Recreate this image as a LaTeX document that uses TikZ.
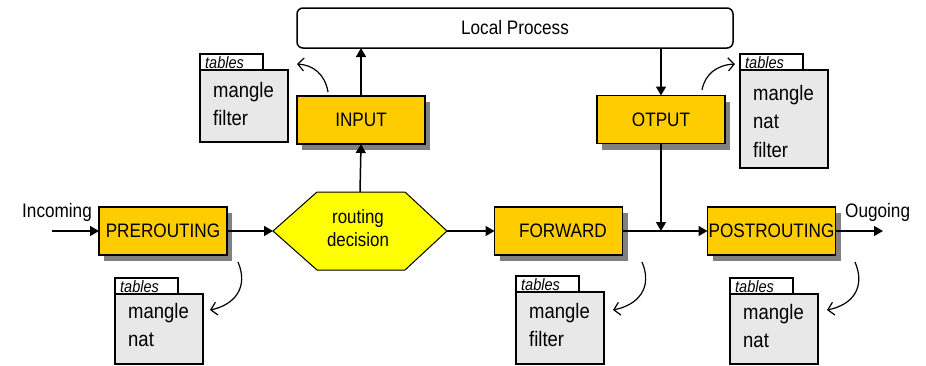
\documentclass[tikz,border=0pt]{standalone}
\usepackage{fontspec}
\setmainfont[FakeStretch=0.88]{Liberation Sans}
\usetikzlibrary{arrows.meta,shadows,calc}

\definecolor{chainfill}{HTML}{FFCC00}
\definecolor{hexfill}{HTML}{FFFF00}
\definecolor{tblfill}{HTML}{E8E8E8}
\definecolor{shadowgrey}{HTML}{808080}

\tikzset{
  chainbox/.style={draw=black, line width=1.8pt, fill=chainfill,
    minimum width=128pt, minimum height=48pt, inner sep=0pt, outer sep=0pt,
    font=\fontsize{19.5}{23}\selectfont,
    drop shadow={shadow xshift=5pt, shadow yshift=-6pt, fill=shadowgrey, opacity=1}},
  procbox/.style={draw=black, line width=1.5pt, rounded corners=6pt, fill=white,
    minimum width=436pt, minimum height=40pt, inner sep=0pt, outer sep=0pt,
    font=\fontsize{19.5}{23}\selectfont},
  tabbox/.style={draw=black, line width=1.3pt, fill=white,
    minimum width=63pt, minimum height=16pt, inner sep=0pt, outer sep=0pt},
  tabtext/.style={inner sep=0pt, font=\fontsize{16.5}{16.5}\selectfont\itshape},
  tblbox/.style={draw=black, line width=1.5pt, fill=tblfill,
    minimum width=88pt, inner sep=0pt, outer sep=0pt},
  tbltext/.style={inner sep=0pt, align=left, font=\fontsize{21}{28.5}\selectfont},
  plain/.style={inner sep=0pt, font=\fontsize{19.5}{23}\selectfont},
  flow/.style={line width=1.5pt, -{Triangle[length=9pt,width=10pt]}},
  joinline/.style={line width=1.5pt},
  lookup/.style={line width=1.2pt, -{Straight Barb[length=6pt,width=13pt,line width=1.2pt]}},
}

% #1 name, #2 x of left edge, #3 y of box top, #4 box height, #5 offset of first baseline, #6 lines
\newcommand\tablestack[6]{%
  \node[tabbox, anchor=south west] (#1tab) at (#2,#3) {};
  \node[tabtext, anchor=base west] (#1tabtxt) at ($(#1tab.south west)+(5,-1.5)$) {tables};
  \node[tblbox, anchor=north west, minimum height=#4] (#1box) at (#2,#3) {};
  \node[tbltext, anchor=north west] (#1txt) at ($(#1box.north west)+(13,#5-15.3)$) {#6};
}

\begin{document}
\begin{tikzpicture}[x=1pt, y=-1pt]
\useasboundingbox (0,0) rectangle (926,365);

% local process on top
\node[procbox] (local) at (515,28) {\raisebox{-4pt}{Local Process}};

% chains
\node[chainbox] (input)  at (361,120) {INPUT};
\node[chainbox] (output) at (661,119.5) {OTPUT};
\node[chainbox] (pre)    at (163,231) {PREROUTING};
\node[chainbox] (fwd)    at (558.5,231) {\hspace*{9pt}FORWARD};
\node[chainbox] (post)   at (771.5,231) {POSTROUTING};

% routing decision hexagon
\coordinate (hexW) at (273,231);
\coordinate (hexE) at (447,231);
\coordinate (hexN) at (360,192);
\filldraw[fill=hexfill, draw=black, line width=1pt]
  (hexW) -- (317,192) -- (405,192) -- (hexE) -- (405,270) -- (317,270) -- cycle;
\node[plain, align=center, font=\fontsize{19.2}{23}\selectfont] (route) at (358,228) {routing\\decision};

% table stacks
\tablestack{inT}{200}{70}{72pt}{27}{mangle\\filter}
\tablestack{outT}{740}{70}{98pt}{30}{mangle\\nat\\filter}
\tablestack{preT}{115}{294}{70pt}{24}{mangle\\nat}
\tablestack{fwdT}{516}{292}{72pt}{26}{mangle\\filter}
\tablestack{postT}{730}{294}{70pt}{25}{mangle\\nat}

% packet flow
\coordinate (in)  at (52,231);
\coordinate (out) at (883,231);
\coordinate (join) at (661,231);
\node[plain, anchor=base west] (inlabel)  at (22,217) {Incoming};
\node[plain, anchor=base west] (outlabel) at (845,217) {Ougoing};

\draw[flow] (in) -- (pre.west);
\draw[flow] (pre.east) -- (hexW);
\draw[flow] (hexN) -- (input.south);
\draw[flow] (input.north) -- (input.north |- local.south);
\draw[flow] (output.north |- local.south) -- (output.north);
\draw[flow] (hexE) -- (fwd.west);
\draw[joinline] (fwd.east) -- (join);
\draw[flow] (output.south) -- (join);
\draw[flow] (join) -- (post.west);
\draw[flow] (post.east) -- (out);

% table lookups
\coordinate (inS) at (328,92);   \coordinate (inE) at (297,64);
\coordinate (outS) at (702,90);  \coordinate (outE) at (735,64);
\coordinate (preS) at (238,262); \coordinate (preE) at (210,310);
\coordinate (fwdS) at (642,262); \coordinate (fwdE) at (613,310);
\coordinate (postS) at (855,262);\coordinate (postE) at (827,310);
\draw[lookup] (inS) .. controls (325,74) and (313,65) .. (inE);
\draw[lookup] (outS) .. controls (705,74) and (717,65) .. (outE);
\draw[lookup] (preS) .. controls (249,288) and (234,305) .. (preE);
\draw[lookup] (fwdS) .. controls (653,288) and (638,305) .. (fwdE);
\draw[lookup] (postS) .. controls (866,288) and (852,305) .. (postE);
\end{tikzpicture}
\end{document}
